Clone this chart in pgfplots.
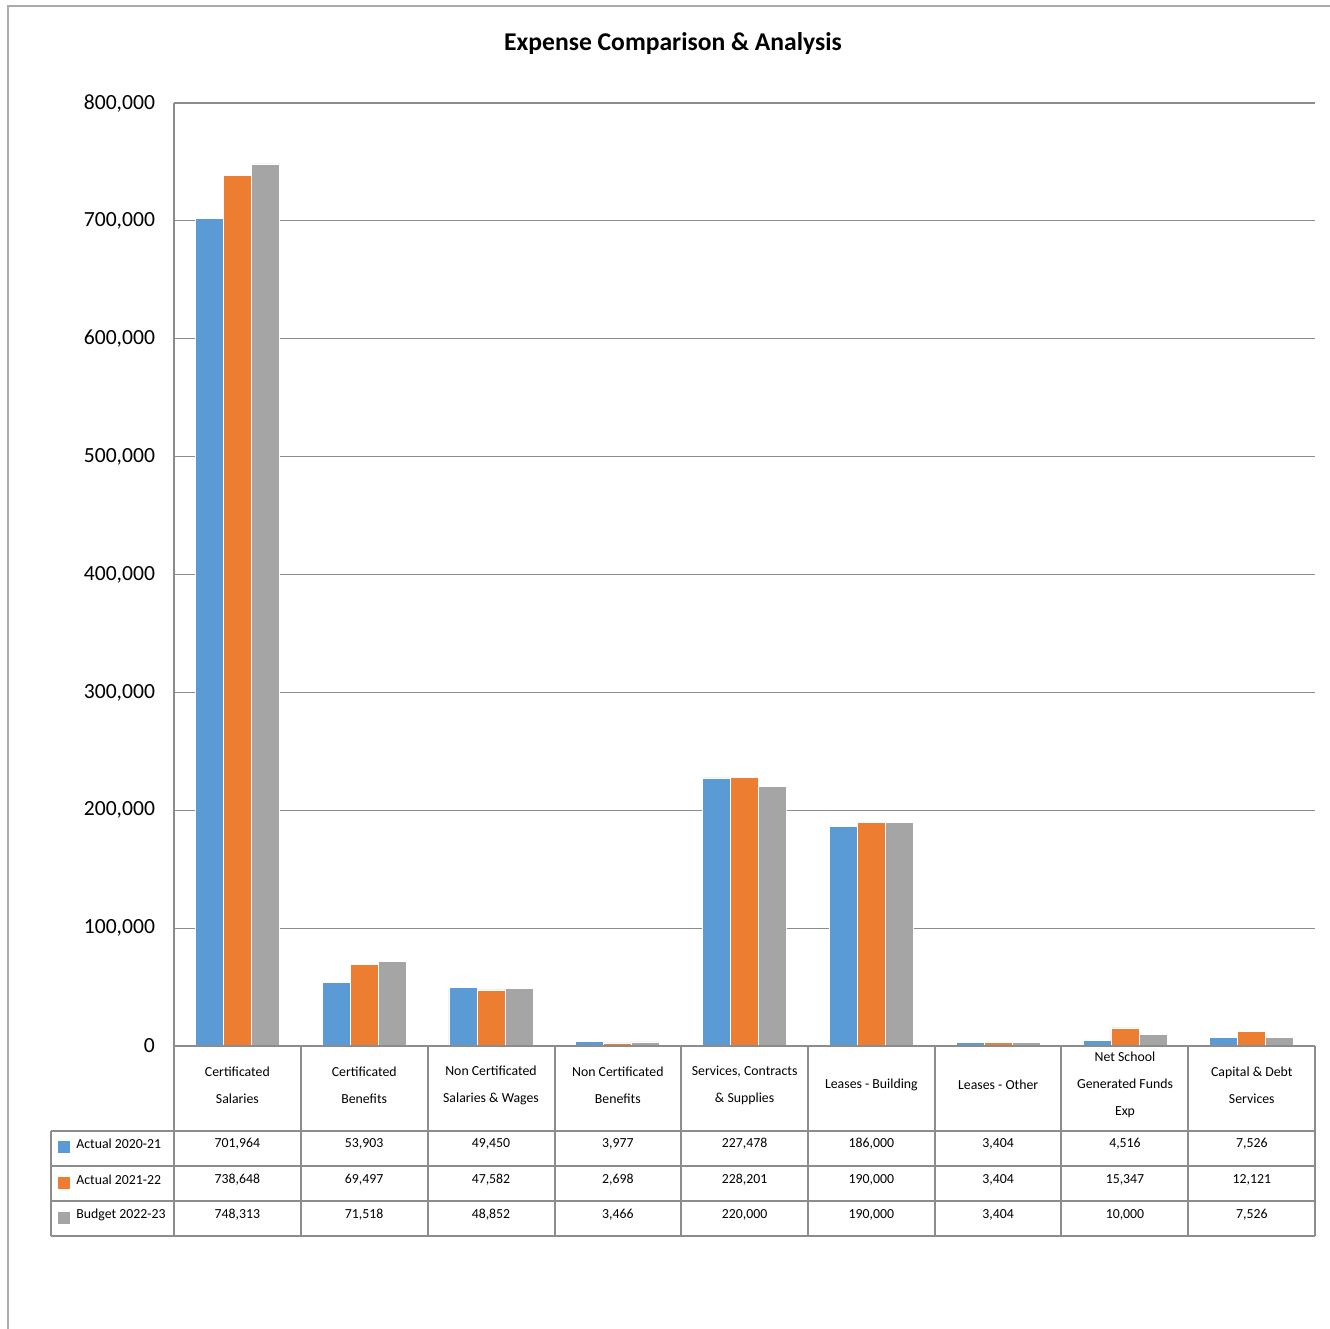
\documentclass[border=0pt]{standalone}
\usepackage{pgfplots}
\pgfplotsset{compat=1.18}
\usepackage{fontspec}
\setmainfont{Carlito}

\definecolor{cBlue}{HTML}{5B9BD5}
\definecolor{cOrange}{HTML}{ED7D31}
\definecolor{cGray}{HTML}{A5A5A5}
\definecolor{gridgray}{HTML}{8C8C8C}
\definecolor{framegray}{HTML}{ABABAB}

\begin{document}
\begin{tikzpicture}
% 1 px of the reference = 0.5pt
\begin{scope}[x=0.5pt,y=-0.5pt]
\useasboundingbox (0,0) rectangle (1330,1329);
\draw[framegray,line width=1pt] (8,1329) -- (8,6) -- (1330,6);
\node[font=\fontsize{12.8}{15}\selectfont\bfseries] at (673,44) {Expense Comparison \& Analysis};
\end{scope}

\begin{axis}[
  at={(87pt,-523pt)}, anchor=south west,
  scale only axis,
  width=570.5pt, height=471.5pt,
  xmin=0.5, xmax=9.5,
  ymin=0, ymax=800000,
  ybar=0pt, bar width=14pt,
  axis x line=none,
  axis y line*=left,
  y axis line style={gridgray, line width=0.6pt},
  ytick={0,100000,...,800000},
  ymajorgrids=true,
  grid style={gridgray, line width=0.6pt},
  major tick length=0pt,
  scaled y ticks=false,
  yticklabel style={font=\fontsize{10.8}{12}\selectfont, xshift=-6pt,
    /pgf/number format/fixed, /pgf/number format/precision=0},
  /pgf/number format/assume math mode=true,
  /pgf/number format/1000 sep={,},
  clip=false,
]
\addplot[fill=cBlue, draw=white, line width=0.3pt] coordinates {
(1,701964) (2,53903) (3,49450) (4,3977) (5,227478) (6,186000) (7,3404) (8,4516) (9,7526)};
\addplot[fill=cOrange, draw=white, line width=0.3pt] coordinates {
(1,738648) (2,69497) (3,47582) (4,2698) (5,228201) (6,190000) (7,3404) (8,15347) (9,12121)};
\addplot[fill=cGray, draw=white, line width=0.3pt] coordinates {
(1,748313) (2,71518) (3,48852) (4,3466) (5,220000) (6,190000) (7,3404) (8,10000) (9,7526)};
\draw[gridgray, line width=0.6pt] (rel axis cs:0,0) -- (rel axis cs:1,0);
\end{axis}

% data table under the chart
\begin{scope}[x=0.5pt,y=-0.5pt]
\draw[gridgray, line width=0.6pt] (174,1046) -- (174,1236);
\foreach \xx in {301,428,555,681,808,935,1061,1188,1315}
  \draw[gridgray, line width=0.6pt] (\xx,1046) -- (\xx,1236);
\foreach \yy in {1131,1166,1201,1236}
  \draw[gridgray, line width=0.6pt] (51,\yy) -- (1315,\yy);
\draw[gridgray, line width=0.6pt] (51,1131) -- (51,1236);

\foreach \lab [count=\i] in {
  {Certificated\\Salaries},
  {Certificated\\Benefits},
  {Non Certificated\\Salaries \& Wages},
  {Non Certificated\\Benefits},
  {Services, Contracts\\\& Supplies},
  {Leases - Building},
  {Leases - Other},
  {Net School\\Generated Funds\\Exp},
  {Capital \& Debt\\Services}}
  \node[align=center, font=\fontsize{6.9}{13.5}\selectfont]
    at ({174+126.8*(\i-0.5)},1085) {\lab};

\foreach \r/\yy/\c/\name in {1/1144/cBlue/Actual 2020-21, 2/1180/cOrange/Actual 2021-22, 3/1215/cGray/Budget 2022-23} {
  \fill[\c] (58,{\yy-3}) rectangle (70,{\yy+9});
  \node[anchor=west, font=\fontsize{6.9}{8}\selectfont, inner sep=0pt] at (76,\yy) {\name};
}
\foreach \t [count=\i] in {701{,}964, 53{,}903, 49{,}450, 3{,}977, 227{,}478, 186{,}000, 3{,}404, 4{,}516, 7{,}526}
  \node[font=\fontsize{6.9}{8}\selectfont, inner sep=0pt] at ({174+126.8*(\i-0.5)},1144) {\t};
\foreach \t [count=\i] in {738{,}648, 69{,}497, 47{,}582, 2{,}698, 228{,}201, 190{,}000, 3{,}404, 15{,}347, 12{,}121}
  \node[font=\fontsize{6.9}{8}\selectfont, inner sep=0pt] at ({174+126.8*(\i-0.5)},1180) {\t};
\foreach \t [count=\i] in {748{,}313, 71{,}518, 48{,}852, 3{,}466, 220{,}000, 190{,}000, 3{,}404, 10{,}000, 7{,}526}
  \node[font=\fontsize{6.9}{8}\selectfont, inner sep=0pt] at ({174+126.8*(\i-0.5)},1215) {\t};
\end{scope}
\end{tikzpicture}
\end{document}
